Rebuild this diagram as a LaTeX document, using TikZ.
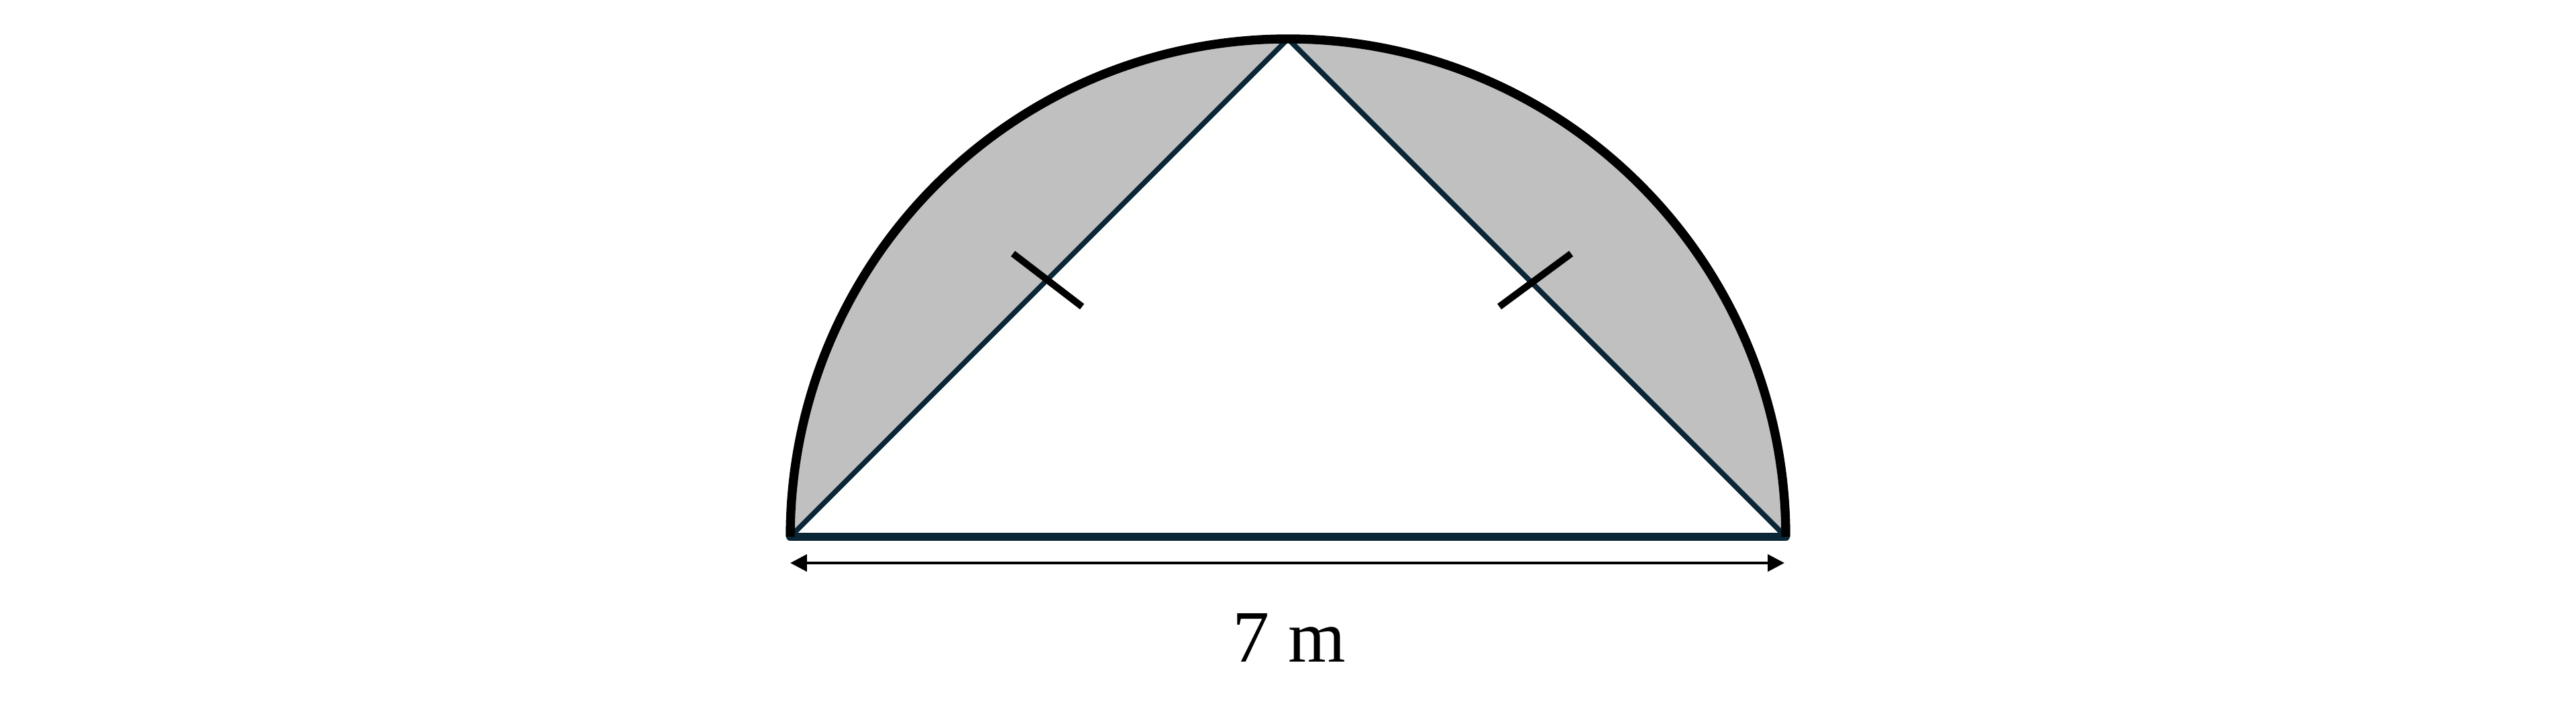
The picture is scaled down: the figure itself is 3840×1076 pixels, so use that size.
\documentclass[tikz,border=0pt]{standalone}
\usepackage{fontspec}
\setmainfont{Liberation Serif}
\usetikzlibrary{arrows.meta}
\definecolor{navy}{HTML}{0B2636}
\definecolor{greyfill}{HTML}{C0C0C0}
\tikzset{
  arcline/.style={draw=black, line width=3.8pt, line join=round},
  triline/.style={draw=navy, line width=2.2pt, line join=round},
  baseline/.style={draw=navy, line width=3.4pt, line cap=round},
  tickmark/.style={draw=black, line width=2.9pt},
  dimline/.style={draw=black, line width=1.3pt, {Triangle[length=7.1pt,width=7.1pt]}-{Triangle[length=7.1pt,width=7.1pt]}},
  lbl/.style={font=\fontsize{31.3pt}{36pt}\selectfont, inner sep=0pt, anchor=base}
}
\begin{document}
\begin{tikzpicture}[x=0.01cm,y=0.01cm]
\useasboundingbox (0,0) rectangle (3840,1076);
\coordinate (A) at (1178,276);
\coordinate (B) at (2662,276);
\coordinate (T) at (1920,1018);
\coordinate (L) at (1178,237);
\coordinate (R) at (2660,237);
\coordinate (t1a) at (1510,698);
\coordinate (t1b) at (1613,619);
\coordinate (t2a) at (2235,619);
\coordinate (t2b) at (2342,698);
% shaded semicircle
\fill[greyfill] (A) arc[start angle=180, end angle=0, radius=742] -- cycle;
\fill[white] (A) -- (T) -- (B) -- cycle;
% triangle
\draw[triline] (A) -- (T) -- (B);
\draw[baseline] (A) -- (B);
% arc
\draw[arcline] (A) arc[start angle=180, end angle=0, radius=742];
% ticks
\draw[tickmark] (t1a) -- (t1b);
\draw[tickmark] (t2a) -- (t2b);
% dimension
\draw[dimline] (L) -- (R);
\node[lbl] (lab) at (1922,89) {7 m};
\end{tikzpicture}
\end{document}
